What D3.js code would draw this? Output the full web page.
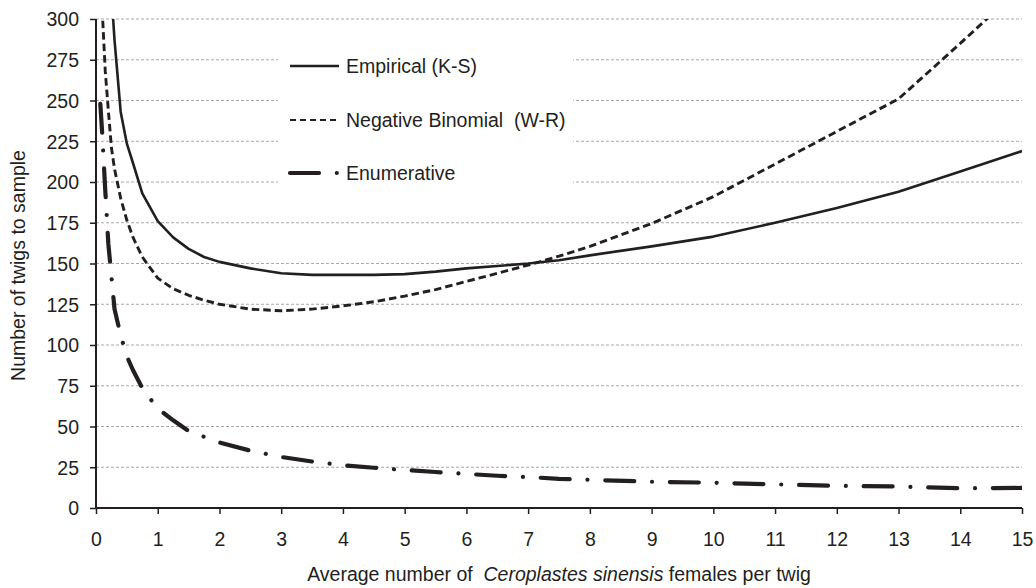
<!DOCTYPE html>
<html>
<head>
<meta charset="utf-8">
<script src="https://cdn.jsdelivr.net/npm/d3@7"></script>
<style>
  html, body { margin: 0; padding: 0; background: #fff; }
  svg { display: block; font-family: "Liberation Sans", Arial, Helvetica, sans-serif; }
</style>
</head>
<body>
<svg id="chart" width="1036" height="588"></svg>
<script>
// Mean density of C. sinensis females per twig (x) shared by all three curves
const density = [0.07, 0.1, 0.15, 0.2, 0.25, 0.3, 0.4, 0.5, 0.6, 0.75, 1, 1.25, 1.5, 1.75, 2, 2.5,
                 3, 3.5, 4, 4.5, 5, 5.5, 6, 6.5, 7, 7.5, 8, 9, 10, 11, 12, 13, 14, 15];

// Required sample sizes (number of twigs); null = not computed at that density
const empiricalKS = [null, null, null, null, 316, 287, 243, 223.5, 211.5, 193, 176, 166, 159, 154, 151, 147,
                     144, 143, 143, 143, 143.5, 145, 147, 148.5, 150, 152, 155, 160.5, 166.5, 175, 184, 194, 206.5, 219];
const negBinomialWR = [null, 306, 268, 244, 221, 208, 190, 176.5, 166, 154, 141, 134.5, 130.5, 127.5, 125, 122,
                       121, 122, 124, 126.5, 130, 134, 139, 144, 149, 154.5, 160.5, 174.5, 191, 211, 231, 251, 285, 320];
const enumerative = [248, 230, 195, 162, 142, 122, 106, 93, 84.5, 73.5, 61, 53.8, 47.2, 43.7, 40.2, 35.2,
                     31.3, 28.5, 26.2, 24.7, 23.3, 22.1, 20.9, 19.8, 19, 17.9, 17.3, 16.1, 15.5, 14.5, 13.6, 13.2, 12.1, 12.3];

const seriesNames = ["Empirical (K-S)", "Negative Binomial  (W-R)", "Enumerative"];
const xTicks = d3.range(0, 16, 1);
const yTicks = d3.range(0, 301, 25);

const ink = "#231f20";
const fontSize = 19.5;

const svg = d3.select("#chart");
const plotLeft = 96, plotRight = 1022, plotTop = 19, plotBottom = 508;

const x = d3.scaleLinear().domain([0, 15]).range([plotLeft, plotRight]);
const y = d3.scaleLinear().domain([0, 300]).range([plotBottom, plotTop]);

// horizontal gridlines
svg.append("g")
  .selectAll("line")
  .data(yTicks.filter(v => v > 0))
  .join("line")
  .attr("x1", plotLeft).attr("x2", plotRight)
  .attr("y1", d => y(d)).attr("y2", d => y(d))
  .attr("stroke", "#a8a8a8")
  .attr("stroke-width", 1)
  .attr("stroke-dasharray", "3,2");

// clip curves to the plotting area
svg.append("defs").append("clipPath").attr("id", "plot-clip")
  .append("rect").attr("x", plotLeft).attr("y", plotTop)
  .attr("width", plotRight - plotLeft).attr("height", plotBottom - plotTop);

const series = [
  { name: seriesNames[0], values: empiricalKS, width: 2.6, dash: null, cap: "butt" },
  { name: seriesNames[1], values: negBinomialWR, width: 2.9, dash: "7.5,4", cap: "butt" },
  { name: seriesNames[2], values: enumerative, width: 4.2, dash: "29,17.8,0.01,17.8", cap: "round" }
];

const line = d3.line()
  .defined(d => d[1] != null)
  .x(d => x(d[0]))
  .y(d => y(d[1]));

const curves = svg.append("g").attr("clip-path", "url(#plot-clip)");
series.forEach(s => {
  curves.append("path")
    .datum(density.map((d, i) => [d, s.values[i]]))
    .attr("d", line)
    .attr("fill", "none")
    .attr("stroke", ink)
    .attr("stroke-width", s.width)
    .attr("stroke-linecap", s.cap)
    .attr("stroke-linejoin", "round")
    .attr("stroke-dasharray", s.dash);
});

// axes
const xAxis = svg.append("g")
  .attr("transform", `translate(0,${plotBottom})`)
  .call(d3.axisBottom(x).tickValues(xTicks).tickSize(6).tickFormat(d3.format("d")));
const yAxis = svg.append("g")
  .attr("transform", `translate(${plotLeft},0)`)
  .call(d3.axisLeft(y).tickValues(yTicks).tickSize(6).tickFormat(d3.format("d")));

[xAxis, yAxis].forEach(g => {
  g.select(".domain").attr("stroke", ink).attr("stroke-width", 2);
  g.selectAll(".tick line").attr("stroke", ink).attr("stroke-width", 1.5);
  g.selectAll(".tick text").attr("fill", ink).attr("font-size", fontSize)
    .attr("font-family", "Liberation Sans, Arial, sans-serif");
});
xAxis.select(".domain").attr("d", `M${plotLeft},0H${plotRight}`);
yAxis.select(".domain").attr("d", `M0,${plotTop}V${plotBottom}`);
xAxis.selectAll(".tick text").attr("y", 37.5).attr("dy", 0);
yAxis.selectAll(".tick text").attr("x", -17).attr("dy", "0.35em");

// legend panel
const legendX = 290, legendTextX = 346;
const legendRows = [66, 120, 173];
svg.append("rect").attr("x", 278).attr("y", 46).attr("width", 295).attr("height", 148).attr("fill", "#fff");

const legend = svg.append("g");
series.forEach((s, i) => {
  const ly = legendRows[i];
  const sample = legend.append("line")
    .attr("x1", legendX).attr("x2", legendX + 49)
    .attr("y1", ly).attr("y2", ly)
    .attr("stroke", ink)
    .attr("stroke-width", s.width)
    .attr("stroke-linecap", s.cap)
    .attr("stroke-dasharray", s.dash);
  if (i === 1) sample.attr("stroke-width", 2.2).attr("stroke-dasharray", "6,4");
  legend.append("text")
    .attr("x", legendTextX).attr("y", ly + 7)
    .attr("fill", ink).attr("font-size", fontSize)
    .attr("xml:space", "preserve")
    .text(s.name);
});

// axis titles
const xTitle = svg.append("text")
  .attr("x", (plotLeft + plotRight) / 2).attr("y", 581)
  .attr("text-anchor", "middle")
  .attr("fill", ink).attr("font-size", fontSize)
  .attr("xml:space", "preserve");
xTitle.append("tspan").text("Average number of  ");
xTitle.append("tspan").attr("font-style", "italic").text("Ceroplastes sinensis");
xTitle.append("tspan").text(" females per twig");

svg.append("text")
  .attr("transform", `translate(25,${(plotTop + plotBottom) / 2 + 2}) rotate(-90)`)
  .attr("text-anchor", "middle")
  .attr("fill", ink).attr("font-size", fontSize)
  .text("Number of twigs to sample");
</script>
</body>
</html>
